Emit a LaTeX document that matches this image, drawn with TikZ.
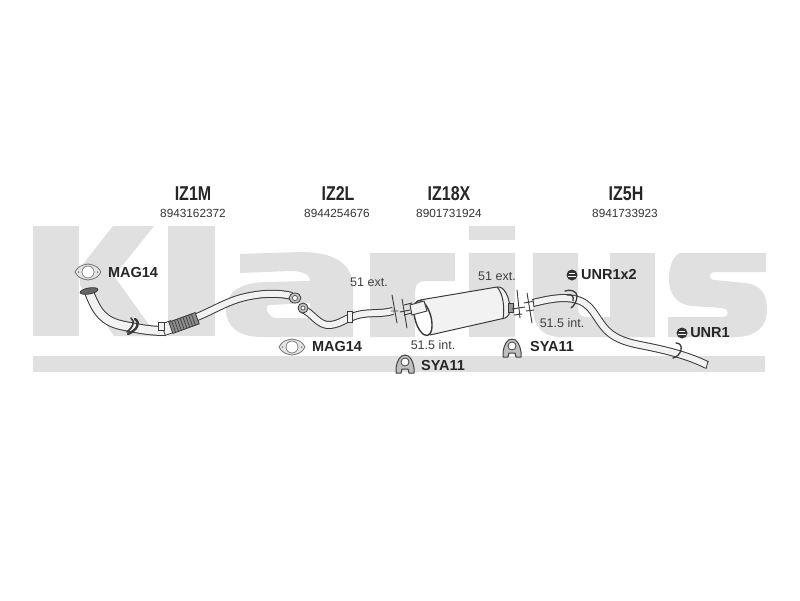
\documentclass[tikz,border=0pt]{standalone}
\usepackage{fontspec}
\setmainfont{Liberation Sans}
\newfontfamily\narrowf[FakeStretch=0.8]{Liberation Sans}
\usetikzlibrary{calc}
\definecolor{wm}{HTML}{E0E0E0}
\definecolor{ink}{HTML}{3A3A3A}
\definecolor{pipefill}{HTML}{F2F2F2}
\tikzset{
 wmshape/.style={fill=wm,draw=none},
 title/.style={font=\narrowf\bfseries\fontsize{20}{20}\selectfont,text=black!85,inner sep=0pt},
 partno/.style={font=\fontsize{11.8}{12}\selectfont,text=black!80,inner sep=0pt},
 tag/.style={font=\bfseries\fontsize{14.5}{15}\selectfont,text=black!85,inner sep=0pt},
 dim/.style={font=\fontsize{12.5}{12}\selectfont,text=black!75,inner sep=0pt},
 pipeout/.style={draw=ink,line width=#1,line cap=butt,line join=round},
 pipein/.style={draw=pipefill,line width=#1,line cap=butt,line join=round},
 pipethin/.style={draw=ink,line width=0.9pt,line cap=round},
 gasket/.pic={
  \path[fill=black!10,draw=black!55,line width=0.8pt]
    (-13,0) .. controls (-10,-6) and (-6,-7) .. (0,-8) .. controls (6,-7) and (10,-6) .. (13,0)
    .. controls (10,6) and (6,7) .. (0,8) .. controls (-6,7) and (-10,6) .. (-13,0) -- cycle;
  \draw[black!50,line width=0.8pt,fill=white] (0,0) circle[radius=6];
  \fill[black!45] (-9.5,0) circle[radius=1] (9.5,0) circle[radius=1];
 },
 hanger/.pic={
  \draw[black!75,fill=black!25,line width=1pt,line join=round]
    (-9,9) -- (-9,4) .. controls (-8,-3) and (-5,-9) .. (0,-9) .. controls (5,-9) and (8,-3) .. (9,4) -- (9,9) -- (4,9) -- (3,5) -- (-3,5) -- (-4,9) -- cycle;
  \draw[black!75,fill=white,line width=0.8pt] (0,-2) circle[radius=4];
 },
 rubber/.pic={
  \fill[black!80] (0,0) circle[radius=5.5];
  \draw[white,line width=0.6pt] (-3,-1.5) -- (3,-1.5) (-4,1) -- (4,1);
 },
}
\begin{document}
\begin{tikzpicture}[x=1pt,y=-1pt]
\useasboundingbox (0,0) rectangle (800,600);
\fill[white] (0,0) rectangle (800,600);
% watermark
\path[wmshape] (33,226) rectangle (79,336);
\path[wmshape] (113,226) -- (154,226) -- (114,276) -- (157,336) -- (114,336) -- (80,285) -- (80,268) -- cycle;
\path[wmshape] (168,226) rectangle (215,336);
% a
\path[wmshape,even odd rule] (240,254) -- (300,252) .. controls (335,252) and (353,264) .. (353,288) -- (353,337) -- (262,337)
  .. controls (238,337) and (226,326) .. (226,310) .. controls (226,292) and (240,283) .. (265,282) -- (310,281)
  .. controls (310,274) and (302,271) .. (290,271) -- (240,273) -- cycle
  (270,305) .. controls (263,305) and (268,317) .. (275,318) -- (310,318) -- (310,303) -- cycle;
% r
\path[wmshape] (370,253) -- (455,253) -- (455,281) -- (425,281) .. controls (418,281) and (415,285) .. (415,292) -- (415,337) -- (370,337) -- cycle;
% i
\path[wmshape] (469,226) rectangle (515,240);
\path[wmshape] (469,253) rectangle (515,337);
% u
\path[wmshape] (533,253) -- (578,253) -- (578,308) .. controls (578,314) and (581,317) .. (587,317) -- (610,317) -- (610,253) -- (655,253) -- (655,337) -- (562,337) .. controls (542,337) and (533,326) .. (533,308) -- cycle;
% s
\path[wmshape] (680,253) -- (766,253) -- (766,272) -- (715,272) .. controls (708,272) and (708,280) .. (715,280) -- (745,283)
  .. controls (762,285) and (767,295) .. (767,310) .. controls (767,327) and (755,337) .. (735,337) -- (668,337) -- (668,317) -- (722,317)
  .. controls (730,317) and (730,309) .. (722,308) -- (692,306) .. controls (675,304) and (669,293) .. (669,279) .. controls (669,263) and (675,255) .. (680,253) -- cycle;
% bar
\path[wmshape] (33,356) rectangle (765,372);

% pipe 1
\def\pipeA{(89,292) .. controls (97,312) and (103,322) .. (125,326) .. controls (140,329) and (150,331) .. (166,331)}
\draw[pipeout=10pt] \pipeA; \draw[pipein=8pt] \pipeA;
\def\pipeB{(192,319) .. controls (215,310) and (228,300) .. (250,296) .. controls (265,293) and (280,293) .. (292,296)}
\draw[pipeout=8pt] \pipeB; \draw[pipein=6pt] \pipeB;
% joint before the corrugated section
\draw[ink,fill=pipefill,line width=0.8pt,rotate around={20:(168,328)}] (163,322) rectangle (173,334);
\draw[ink,fill=pipefill,line width=0.8pt] (158,322) rectangle (164,330);
% corrugated section
\draw[ink,fill=black!45,line width=0.8pt,rotate around={20:(184,323)}] (170,317) rectangle (198,329);
\foreach \t in {173,176,...,196}{\draw[black!75,line width=0.7pt,rotate around={20:(184,323)}] (\t,317) -- (\t,329);}
% clamp and flange of pipe 1
\draw[ink,line width=2.4pt,line cap=round] (135,319) .. controls (141,323) and (137,330) .. (128,334);
\draw[ink,line width=1.6pt,line cap=round] (131,318) .. controls (136,322) and (132,328) .. (127,332);
\draw[ink,fill=black!60,line width=0.8pt,rotate around={10:(89,291)}] (89,291) ellipse[x radius=9,y radius=3];
\draw[ink,fill=black!25,line width=0.8pt] (295,298) ellipse[x radius=6,y radius=5];
\draw[ink,fill=white,line width=0.6pt] (295,298) circle[radius=2.5];

% pipe 2
\def\pipeC{(302,309) .. controls (312,312) and (318,326) .. (330,325) .. controls (340,324) and (345,319) .. (352,317) .. controls (365,311) and (378,315) .. (393,311)}
\draw[pipeout=8pt] \pipeC; \draw[pipein=6pt] \pipeC;
\draw[ink,fill=black!25,line width=0.8pt] (303,308) ellipse[x radius=5,y radius=5];
\draw[ink,fill=white,line width=0.6pt] (303,308) circle[radius=2];
\draw[ink,line width=1pt,fill=pipefill] (347,311) rectangle (352,322);
% flange lines
\draw[pipethin] (392,295) -- (397,323);
\draw[pipethin] (402,299) -- (407,328);
\draw[pipethin] (391,311) -- (398,311) (400,312) -- (410,310);
\draw[pipethin] (404,305) -- (412,303) (404,315) -- (412,313);
% muffler
\draw[ink,fill=pipefill,line width=1pt,line join=round] (420,300) -- (497,287) .. controls (505,286) and (509,298) .. (510,307) .. controls (510,313) and (509,316) .. (505,318) -- (430,335) -- cycle;
\draw[ink,fill=white,line width=1.4pt,rotate around={15:(423,318)}] (423,318) ellipse[x radius=8,y radius=18];
\draw[ink,line width=1pt] (497,287) .. controls (503,293) and (505,308) .. (503,319);
\draw[ink,fill=pipefill,line width=0.9pt] (410,305) -- (424,301) -- (427,311) -- (412,315) -- cycle;
\draw[ink,fill=black!40,line width=0.8pt] (508,303) rectangle (513,312);
% right flanges
\draw[pipethin] (517,290) -- (520,318);
\draw[pipethin] (527,293) -- (532,323);
\draw[pipethin] (512,309) -- (525,307) (514,315) -- (522,314) (524,303) -- (535,301) (526,311) -- (534,310);

% tail pipe
\def\pipeD{(533,303) .. controls (545,300) and (555,298) .. (565,298) .. controls (590,299) and (592,312) .. (603,326) .. controls (612,338) and (625,342) .. (640,345) .. controls (660,349) and (685,354) .. (707,365)}
\draw[pipeout=8pt] \pipeD; \draw[pipein=6pt] \pipeD;
\draw[ink,line width=0.8pt] (533,299) -- (534,307) (708,361) -- (706,369);
% hanger clips
\draw[ink,line width=1.3pt,line cap=round] (565,291) .. controls (570,289) and (577,291) .. (577,296) .. controls (577,301) and (574,306) .. (571,308);
\draw[ink,line width=1.3pt,line cap=round] (567,295) .. controls (572,294) and (574,296) .. (573,301);
\draw[ink,line width=1.3pt,line cap=round] (676,343) .. controls (680,343) and (682,346) .. (681,350) .. controls (680,354) and (677,357) .. (673,358);

% icons
\pic at (88,272) {gasket};
\pic at (292,347) {gasket};
\pic at (405,364) {hanger};
\pic at (512,348) {hanger};
\pic at (572,275) {rubber};
\pic at (682,333) {rubber};

% texts
\node[title] (t1) at (193,194) {IZ1M};
\node[title] (t2) at (338,194) {IZ2L};
\node[title] (t3) at (449,194) {IZ18X};
\node[title] (t4) at (626,194) {IZ5H};
\node[partno] (p1) at (193,213) {8943162372};
\node[partno] (p2) at (337,213) {8944254676};
\node[partno] (p3) at (449,213) {8901731924};
\node[partno] (p4) at (625,213) {8941733923};
\node[tag] (m1) at (133,272.5) {MAG14};
\node[tag] (m2) at (337,347) {MAG14};
\node[tag] (s1) at (443,366) {SYA11};
\node[tag] (s2) at (552,347) {SYA11};
\node[tag] (u1) at (609,275) {UNR1x2};
\node[tag] (u2) at (710,333) {UNR1};
\node[dim] (d1) at (369,282) {51 ext.};
\node[dim] (d2) at (497,276) {51 ext.};
\node[dim] (d3) at (433,345) {51.5 int.};
\node[dim] (d4) at (562,323) {51.5 int.};
\end{tikzpicture}
\end{document}
